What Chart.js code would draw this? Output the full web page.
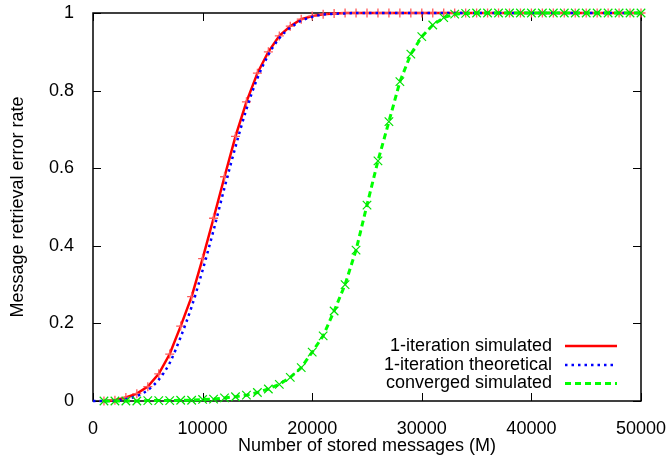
<!DOCTYPE html>
<html>
<head>
<meta charset="utf-8">
<script src="https://cdn.jsdelivr.net/npm/chart.js@4.4.0/dist/chart.umd.min.js"></script>
<style>
  html, body { margin: 0; padding: 0; background: #fff; }
  #wrap { width: 669px; height: 464px; }
</style>
</head>
<body>
<div id="wrap"><canvas id="grafico" width="669" height="464"></canvas></div>
<script>
// messages stored (x) for the simulated runs
const mensagens = [1000, 2000, 3000, 4000, 5000, 6000, 7000, 8000, 9000, 10000,
  11000, 12000, 13000, 14000, 15000, 16000, 17000, 18000, 19000, 20000,
  21000, 22000, 23000, 24000, 25000, 26000, 27000, 28000, 29000, 30000,
  31000, 32000, 33000, 34000, 35000, 36000, 37000, 38000, 39000, 40000,
  41000, 42000, 43000, 44000, 45000, 46000, 47000, 48000, 49000, 50000];
// the theoretical curve starts at 0
const mensagensTeoria = [0, 1000, 2000, 3000, 4000, 5000, 6000, 7000, 8000, 9000, 10000,
  11000, 12000, 13000, 14000, 15000, 16000, 17000, 18000, 19000, 20000,
  21000, 22000, 23000, 24000, 25000, 30000, 40000, 50000];

const simulado1 = [0.000, 0.002, 0.009, 0.019, 0.037, 0.070, 0.121, 0.193, 0.269, 0.367,
  0.471, 0.578, 0.682, 0.771, 0.845, 0.900, 0.941, 0.966, 0.984, 0.992,
  0.997, 0.999, 1, 1, 1, 1, 1, 1, 1, 1,
  1, 1, 1, 1, 1, 1, 1, 1, 1, 1,
  1, 1, 1, 1, 1, 1, 1, 1, 1, 1];
const teorico1 = [0, 0.000, 0.001, 0.005, 0.013, 0.028, 0.055, 0.098, 0.165, 0.243, 0.337,
  0.440, 0.550, 0.655, 0.752, 0.832, 0.892, 0.935, 0.962, 0.980, 0.990,
  0.996, 0.998, 0.999, 1, 1, 1, 1, 1];
const convergido = [0, 0, 0, 0, 0.001, 0.001, 0.001, 0.002, 0.002, 0.004,
  0.005, 0.008, 0.011, 0.015, 0.022, 0.031, 0.043, 0.061, 0.086, 0.126,
  0.168, 0.232, 0.300, 0.389, 0.505, 0.619, 0.720, 0.823, 0.894, 0.939,
  0.969, 0.988, 0.997, 0.999, 1, 1, 1, 1, 1, 1,
  1, 1, 1, 1, 1, 1, 1, 1, 1, 1];

const ticksX = [0, 10000, 20000, 30000, 40000, 50000];
const rotulosX = ['0', '10000', '20000', '30000', '40000', '50000'];
const ticksY = [0, 0.2, 0.4, 0.6, 0.8, 1];
const rotulosY = ['0', '0.2', '0.4', '0.6', '0.8', '1'];
const legendas = ['1-iteration simulated', '1-iteration theoretical', 'converged simulated'];

const familia = '"Liberation Sans", Arial, sans-serif';
Chart.defaults.font.family = familia;
Chart.defaults.font.size = 18;
Chart.defaults.color = '#000';

const fonte = { family: familia, size: 18 };

const pontos = (xs, ys) => xs.map((x, i) => ({ x: x, y: ys[i] }));

// box + inward ticks on all four sides (gnuplot look)
const moldura = {
  id: 'moldura',
  beforeDatasetsDraw(chart) {
    const { ctx, chartArea: a, scales: { x, y } } = chart;
    const tam = 8;
    ctx.save();
    ctx.strokeStyle = '#000';
    ctx.lineWidth = 1;
    ctx.beginPath();
    ticksX.forEach(v => {
      const px = Math.round(x.getPixelForValue(v)) + 0.5;
      ctx.moveTo(px, a.bottom); ctx.lineTo(px, a.bottom - tam);
      ctx.moveTo(px, a.top); ctx.lineTo(px, a.top + tam);
    });
    ticksY.forEach(v => {
      const py = Math.round(y.getPixelForValue(v)) + 0.5;
      ctx.moveTo(a.left, py); ctx.lineTo(a.left + tam, py);
      ctx.moveTo(a.right, py); ctx.lineTo(a.right - tam, py);
    });
    ctx.stroke();
    ctx.lineWidth = 1.5;
    ctx.strokeRect(a.left, a.top, a.right - a.left, a.bottom - a.top);
    ctx.restore();
  }
};

// legend: text right-aligned, sample line on the right
const legendaDireita = {
  id: 'legendaDireita',
  afterDatasetsDraw(chart) {
    const { ctx } = chart;
    const linhas = [346, 365, 383.5];
    ctx.save();
    ctx.font = '18px ' + familia;
    ctx.fillStyle = '#000';
    ctx.textAlign = 'right';
    ctx.textBaseline = 'middle';
    legendas.forEach((txt, i) => {
      const ds = chart.data.datasets[i];
      ctx.fillText(txt, 552, linhas[i]);
      ctx.strokeStyle = ds.borderColor;
      ctx.lineWidth = ds.borderWidth;
      ctx.setLineDash(ds.borderDash || []);
      ctx.beginPath();
      ctx.moveTo(565, linhas[i]);
      ctx.lineTo(617, linhas[i]);
      ctx.stroke();
    });
    ctx.restore();
  }
};

new Chart(document.getElementById('grafico'), {
  type: 'line',
  data: {
    datasets: [{
      label: legendas[0],
      data: pontos(mensagens, simulado1),
      borderColor: 'rgb(255,0,0)',
      borderWidth: 2.5,
      pointStyle: 'cross',
      pointRadius: 4.5,
      pointBorderWidth: 1.3,
      pointBorderColor: 'rgb(255,90,90)',
      pointBackgroundColor: 'rgb(255,0,0)',
      tension: 0,
      clip: false,
      order: 3
    }, {
      label: legendas[1],
      data: pontos(mensagensTeoria, teorico1),
      borderColor: 'rgb(0,0,255)',
      borderWidth: 2.5,
      borderDash: [2.5, 4],
      pointRadius: 0,
      cubicInterpolationMode: 'monotone',
      clip: false,
      order: 2
    }, {
      label: legendas[2],
      data: pontos(mensagens, convergido),
      borderColor: 'rgb(0,255,0)',
      borderWidth: 3,
      borderDash: [6, 4],
      pointStyle: 'crossRot',
      pointRadius: 6,
      pointBorderWidth: 1.2,
      pointBorderColor: 'rgb(0,225,0)',
      pointBackgroundColor: 'rgb(0,255,0)',
      tension: 0,
      clip: false,
      order: 1
    }]
  },
  options: {
    responsive: false,
    animation: false,
    events: [],
    layout: { padding: { top: 13, right: 28, left: 0, bottom: 0 } },
    plugins: { legend: { display: false }, tooltip: { enabled: false } },
    scales: {
      x: {
        type: 'linear',
        min: 0,
        max: 50000,
        afterBuildTicks: s => { s.ticks = ticksX.map(v => ({ value: v })); },
        afterFit: s => { s.height = 63; s.paddingLeft = 0; s.paddingRight = 0; },
        grid: { display: false },
        border: { display: false },
        ticks: {
          color: '#000', font: fonte, padding: 9, maxRotation: 0,
          callback: (v, i) => rotulosX[i]
        },
        title: {
          display: true, text: 'Number of stored messages (M)', color: '#000', font: fonte,
          padding: { top: 0, bottom: 7 }
        }
      },
      y: {
        min: 0,
        max: 1,
        afterBuildTicks: s => { s.ticks = ticksY.map(v => ({ value: v })); },
        afterFit: s => { s.width = 93; s.paddingTop = 0; s.paddingBottom = 0; },
        grid: { display: false },
        border: { display: false },
        ticks: {
          color: '#000', font: fonte, padding: 11,
          callback: (v, i) => rotulosY[i]
        },
        title: {
          display: true, text: 'Message retrieval error rate', color: '#000', font: fonte,
          padding: { top: 7, bottom: 0 }
        }
      }
    }
  },
  plugins: [moldura, legendaDireita]
});
</script>
</body>
</html>
